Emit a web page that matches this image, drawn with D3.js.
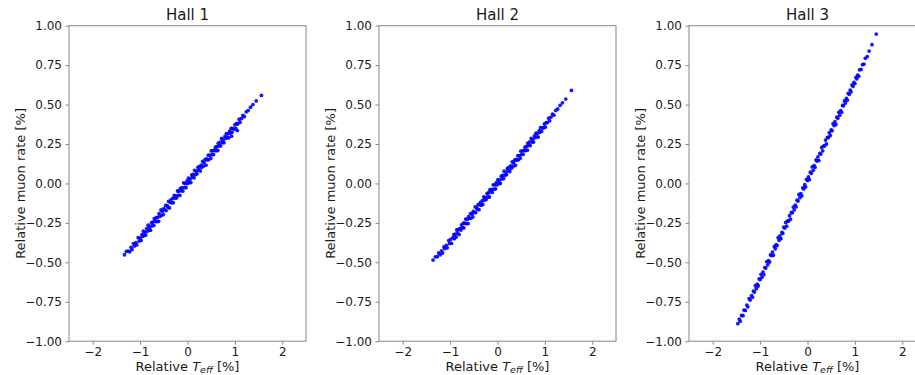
<!DOCTYPE html>
<html>
<head>
<meta charset="utf-8">
<script src="https://cdn.jsdelivr.net/npm/d3@7"></script>
<style>
  body { margin: 0; background: #fff; }
  text { font-family: "DejaVu Sans", sans-serif; fill: #1a1a1a; }
</style>
</head>
<body>
<div id="chart"></div>
<script>
const titles = ["Hall 1", "Hall 2", "Hall 3"];
const xTicks = [-2, -1, 0, 1, 2];
const yTicks = [-1, -0.75, -0.5, -0.25, 0, 0.25, 0.5, 0.75, 1];

// relative T_eff [%], relative muon rate [%]
const hall1 = [
  [-1.33,-0.452],[-1.29,-0.43],[-1.25,-0.429],[-1.22,-0.433],[-1.19,-0.405],[-1.17,-0.42],[-1.14,-0.382],[-1.12,-0.397],
  [-1.09,-0.376],[-1.07,-0.39],[-1.04,-0.344],[-1.02,-0.365],[-1.00,-0.346],[-0.98,-0.361],[-0.96,-0.324],[-0.95,-0.335],
  [-0.93,-0.303],[-0.91,-0.33],[-0.90,-0.31],[-0.88,-0.327],[-0.86,-0.286],[-0.85,-0.303],[-0.83,-0.265],[-0.81,-0.297],
  [-0.80,-0.277],[-0.78,-0.296],[-0.76,-0.249],[-0.75,-0.269],[-0.73,-0.245],[-0.71,-0.266],[-0.70,-0.223],[-0.68,-0.239],
  [-0.66,-0.217],[-0.65,-0.242],[-0.63,-0.215],[-0.61,-0.24],[-0.60,-0.191],[-0.58,-0.208],[-0.56,-0.168],[-0.55,-0.202],
  [-0.53,-0.177],[-0.51,-0.197],[-0.50,-0.16],[-0.48,-0.167],[-0.46,-0.139],[-0.45,-0.172],[-0.43,-0.14],[-0.41,-0.151],
  [-0.40,-0.113],[-0.38,-0.155],[-0.36,-0.12],[-0.35,-0.104],[-0.33,-0.123],[-0.31,-0.095],[-0.30,-0.122],[-0.28,-0.076],
  [-0.26,-0.093],[-0.25,-0.079],[-0.23,-0.092],[-0.21,-0.048],[-0.20,-0.075],[-0.18,-0.05],[-0.16,-0.075],[-0.15,-0.032],
  [-0.13,-0.045],[-0.11,-0.027],[-0.10,-0.049],[-0.08,0.004],[-0.06,-0.027],[-0.05,-0.001],[-0.03,-0.026],[-0.01,0.016],
  [0.00,-0.001],[0.02,0.033],[0.04,0.006],[0.05,0.027],[0.07,0.006],[0.09,0.054],[0.10,0.038],[0.12,0.058],
  [0.14,0.036],[0.15,0.083],[0.17,0.057],[0.19,0.078],[0.20,0.061],[0.22,0.102],[0.24,0.088],[0.25,0.107],
  [0.27,0.079],[0.29,0.116],[0.30,0.102],[0.32,0.14],[0.34,0.11],[0.35,0.132],[0.37,0.151],[0.39,0.116],
  [0.40,0.156],[0.42,0.149],[0.44,0.179],[0.45,0.151],[0.47,0.178],[0.49,0.159],[0.50,0.206],[0.52,0.183],
  [0.54,0.208],[0.55,0.183],[0.57,0.211],[0.59,0.23],[0.60,0.207],[0.62,0.233],[0.64,0.209],[0.65,0.255],
  [0.67,0.239],[0.69,0.262],[0.70,0.238],[0.72,0.285],[0.74,0.259],[0.75,0.276],[0.77,0.258],[0.79,0.299],
  [0.80,0.286],[0.82,0.316],[0.84,0.29],[0.85,0.314],[0.87,0.289],[0.89,0.331],[0.90,0.319],[0.92,0.349],
  [0.93,0.30],[0.94,0.324],[0.96,0.349],[0.98,0.344],[1.00,0.372],[1.02,0.349],[1.04,0.38],[1.05,0.335],
  [1.06,0.377],[1.09,0.407],[1.11,0.388],[1.14,0.412],[1.17,0.432],[1.20,0.423],[1.24,0.454],[1.28,0.462],
  [1.33,0.483],[1.38,0.50],[1.45,0.523],[1.56,0.558]
];

const hall2 = [
  [-1.36,-0.486],[-1.31,-0.465],[-1.27,-0.464],[-1.24,-0.441],[-1.21,-0.452],[-1.18,-0.427],[-1.16,-0.441],[-1.13,-0.403],
  [-1.11,-0.413],[-1.08,-0.392],[-1.06,-0.408],[-1.03,-0.362],[-1.01,-0.38],[-0.99,-0.355],[-0.97,-0.38],[-0.94,-0.344],
  [-0.92,-0.324],[-0.91,-0.35],[-0.89,-0.322],[-0.87,-0.34],[-0.86,-0.295],[-0.84,-0.314],[-0.82,-0.291],[-0.81,-0.324],
  [-0.79,-0.286],[-0.77,-0.295],[-0.76,-0.263],[-0.74,-0.279],[-0.72,-0.252],[-0.71,-0.282],[-0.69,-0.252],[-0.67,-0.226],
  [-0.66,-0.255],[-0.64,-0.228],[-0.62,-0.255],[-0.61,-0.211],[-0.59,-0.222],[-0.57,-0.191],[-0.56,-0.221],[-0.54,-0.195],
  [-0.52,-0.212],[-0.51,-0.177],[-0.49,-0.182],[-0.47,-0.149],[-0.46,-0.185],[-0.44,-0.155],[-0.42,-0.164],[-0.41,-0.135],
  [-0.39,-0.166],[-0.37,-0.135],[-0.36,-0.12],[-0.34,-0.138],[-0.32,-0.109],[-0.31,-0.133],[-0.29,-0.086],[-0.27,-0.105],
  [-0.26,-0.09],[-0.24,-0.102],[-0.22,-0.065],[-0.21,-0.086],[-0.19,-0.059],[-0.17,-0.086],[-0.16,-0.04],[-0.14,-0.054],
  [-0.12,-0.037],[-0.11,-0.057],[-0.09,-0.009],[-0.07,-0.036],[-0.06,-0.009],[-0.04,-0.034],[-0.02,0.007],[-0.01,-0.009],
  [0.01,0.024],[0.03,-0.001],[0.04,0.02],[0.06,0.0],[0.08,0.046],[0.09,0.029],[0.11,0.051],[0.13,0.031],
  [0.14,0.078],[0.16,0.052],[0.18,0.072],[0.19,0.056],[0.21,0.096],[0.23,0.084],[0.24,0.101],[0.26,0.075],
  [0.28,0.111],[0.29,0.096],[0.31,0.137],[0.33,0.107],[0.34,0.129],[0.36,0.147],[0.38,0.115],[0.39,0.152],
  [0.41,0.148],[0.43,0.176],[0.44,0.15],[0.46,0.176],[0.48,0.159],[0.49,0.205],[0.51,0.183],[0.53,0.206],
  [0.54,0.184],[0.56,0.21],[0.58,0.23],[0.59,0.208],[0.61,0.235],[0.63,0.211],[0.64,0.255],[0.66,0.241],
  [0.68,0.263],[0.69,0.24],[0.71,0.286],[0.73,0.262],[0.74,0.278],[0.76,0.262],[0.78,0.302],[0.79,0.29],
  [0.81,0.319],[0.83,0.295],[0.84,0.317],[0.86,0.294],[0.88,0.335],[0.89,0.324],[0.91,0.353],[0.93,0.33],
  [0.95,0.354],[0.97,0.351],[0.99,0.377],[1.01,0.357],[1.03,0.386],[1.05,0.386],[1.08,0.414],[1.10,0.397],
  [1.13,0.421],[1.16,0.44],[1.19,0.433],[1.23,0.463],[1.27,0.472],[1.32,0.495],[1.37,0.511],[1.44,0.535],
  [1.56,0.59]
];

const hall3 = [
  [-1.47,-0.889],[-1.44,-0.86],[-1.42,-0.873],[-1.39,-0.837],[-1.36,-0.838],[-1.34,-0.803],[-1.31,-0.805],[-1.28,-0.771],
  [-1.26,-0.782],[-1.23,-0.731],[-1.21,-0.739],[-1.18,-0.711],[-1.16,-0.722],[-1.14,-0.682],[-1.12,-0.688],[-1.10,-0.648],
  [-1.08,-0.667],[-1.06,-0.639],[-1.04,-0.65],[-1.02,-0.605],[-1.00,-0.609],[-0.98,-0.576],[-0.96,-0.595],[-0.94,-0.562],
  [-0.92,-0.578],[-0.90,-0.533],[-0.88,-0.536],[-0.86,-0.496],[-0.84,-0.516],[-0.82,-0.49],[-0.80,-0.498],[-0.78,-0.453],
  [-0.76,-0.457],[-0.74,-0.435],[-0.72,-0.455],[-0.70,-0.399],[-0.68,-0.414],[-0.66,-0.388],[-0.64,-0.394],[-0.62,-0.344],
  [-0.60,-0.36],[-0.58,-0.332],[-0.56,-0.35],[-0.54,-0.311],[-0.52,-0.317],[-0.50,-0.277],[-0.48,-0.283],[-0.46,-0.247],
  [-0.44,-0.271],[-0.42,-0.239],[-0.40,-0.238],[-0.38,-0.204],[-0.36,-0.227],[-0.34,-0.184],[-0.32,-0.186],[-0.30,-0.15],
  [-0.28,-0.168],[-0.26,-0.137],[-0.24,-0.149],[-0.22,-0.106],[-0.20,-0.112],[-0.18,-0.07],[-0.16,-0.09],[-0.14,-0.065],
  [-0.12,-0.079],[-0.10,-0.028],[-0.08,-0.035],[-0.06,-0.008],[-0.04,-0.022],[-0.02,0.026],[0.00,0.018],[0.02,0.041],
  [0.04,0.024],[0.06,0.071],[0.08,0.064],[0.10,0.105],[0.12,0.083],[0.14,0.113],[0.16,0.102],[0.18,0.149],
  [0.20,0.142],[0.22,0.168],[0.24,0.145],[0.26,0.19],[0.28,0.186],[0.30,0.228],[0.32,0.206],[0.34,0.237],
  [0.36,0.238],[0.38,0.275],[0.40,0.25],[0.42,0.292],[0.44,0.291],[0.46,0.322],[0.48,0.304],[0.50,0.339],
  [0.52,0.334],[0.54,0.379],[0.56,0.367],[0.58,0.391],[0.60,0.373],[0.62,0.42],[0.64,0.414],[0.66,0.451],
  [0.68,0.432],[0.70,0.461],[0.72,0.451],[0.74,0.494],[0.76,0.493],[0.78,0.523],[0.80,0.51],[0.82,0.539],
  [0.84,0.528],[0.86,0.571],[0.88,0.565],[0.90,0.592],[0.92,0.581],[0.94,0.624],[0.96,0.616],[0.98,0.64],
  [1.00,0.633],[1.02,0.672],[1.04,0.663],[1.06,0.687],[1.08,0.68],[1.10,0.72],[1.13,0.723],[1.16,0.753],
  [1.19,0.756],[1.22,0.793],[1.26,0.804],[1.30,0.839],[1.36,0.88],[1.45,0.947]
];

const halls = [hall1, hall2, hall3];

const width = 915, height = 375;
const panelW = 237, panelH = 315.5;
const panelLeft = [69, 379, 689];
const panelTop = 25.7;

const svg = d3.select("#chart").append("svg")
  .attr("width", width)
  .attr("height", height);

const x = d3.scaleLinear().domain([-2.5, 2.5]).range([0, panelW]);
const y = d3.scaleLinear().domain([-1, 1]).range([panelH, 0]);

halls.forEach((pts, i) => {
  const g = svg.append("g")
    .attr("transform", "translate(" + panelLeft[i] + "," + panelTop + ")");

  // points
  g.append("g").selectAll("circle")
    .data(pts)
    .enter()
    .append("circle")
    .attr("cx", d => x(d[0]))
    .attr("cy", d => y(d[1]))
    .attr("r", 1.9)
    .attr("fill", "#0000ff")
    .attr("fill-opacity", 0.9);

  // axes
  const xAxis = g.append("g")
    .attr("transform", "translate(0," + panelH + ")")
    .call(d3.axisBottom(x).tickValues(xTicks).tickSize(3.5).tickPadding(3)
      .tickFormat(d => d3.format("d")(d).replace("-", "\u2212")));

  const yAxis = g.append("g")
    .call(d3.axisLeft(y).tickValues(yTicks).tickSize(3.5).tickPadding(3.5)
      .tickFormat(d => d3.format(".2f")(d).replace("-", "\u2212")));

  [xAxis, yAxis].forEach(a => {
    a.select(".domain").remove();
    a.selectAll("line").attr("stroke", "#888");
    a.selectAll("text").style("font-family", "DejaVu Sans").style("font-size", "12px").attr("fill", "#1a1a1a");
  });

  // frame
  g.append("rect")
    .attr("width", panelW)
    .attr("height", panelH)
    .attr("fill", "none")
    .attr("stroke", "#888")
    .attr("stroke-width", 1);

  // title
  g.append("text")
    .attr("x", panelW / 2)
    .attr("y", -6)
    .attr("text-anchor", "middle")
    .style("font-size", "15px")
    .text(titles[i]);

  // x label
  const xl = g.append("text")
    .attr("x", panelW / 2)
    .attr("y", panelH + 29.5)
    .attr("text-anchor", "middle")
    .style("font-size", "13px");
  xl.append("tspan").text("Relative ");
  xl.append("tspan").style("font-style", "italic").text("T");
  xl.append("tspan").style("font-style", "italic").style("font-size", "9.5px").attr("dy", 2.5).text("eff");
  xl.append("tspan").attr("dy", -2.5).text(" [%]");

  // y label
  g.append("text")
    .attr("transform", "translate(" + (-44) + "," + (panelH / 2) + ") rotate(-90)")
    .attr("text-anchor", "middle")
    .style("font-size", "13px")
    .text("Relative muon rate [%]");
});
</script>
</body>
</html>
